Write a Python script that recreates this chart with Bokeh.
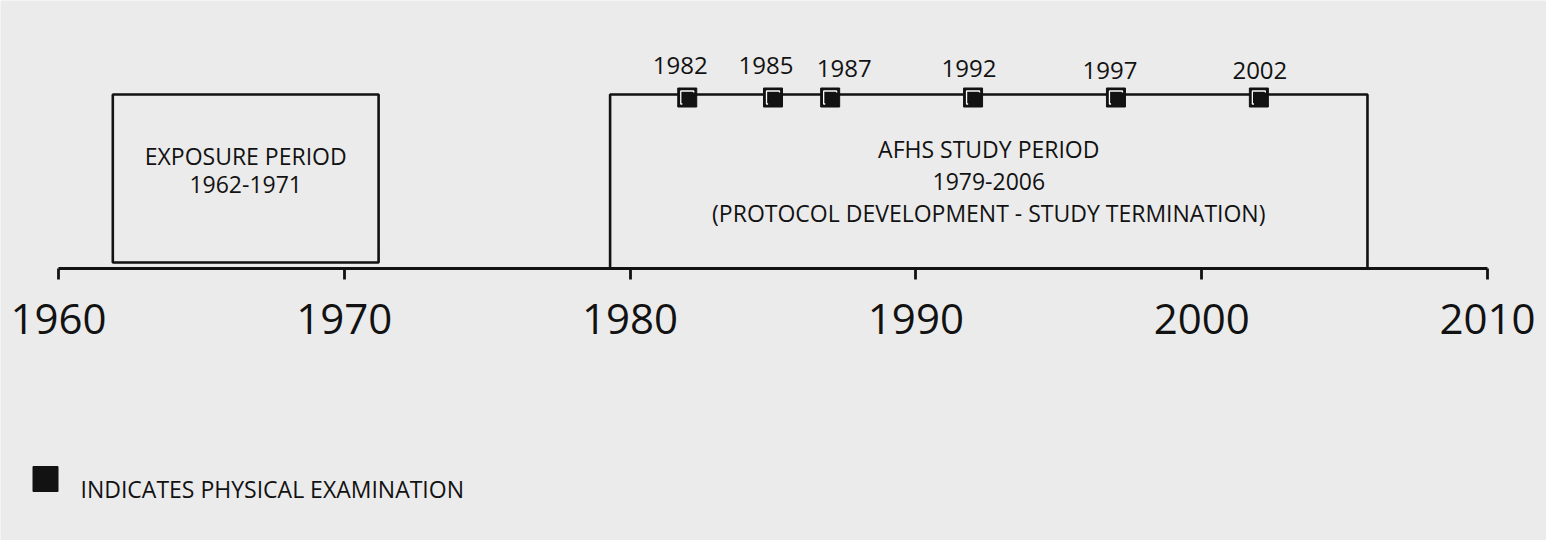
from bokeh.plotting import figure
from bokeh.models import Range1d, FixedTicker, ColumnDataSource
from bokeh.core.properties import value
from bokeh.embed import file_html
from bokeh.resources import INLINE

# ---------------- data ----------------
tick_years = [1960, 1970, 1980, 1990, 2000, 2010]
exam_years = [1982, 1985, 1987, 1992, 1997, 2002]
exam_labels = ["1982", "1985", "1987", "1992", "1997", "2002"]

period_start = [1961.9, 1979.3]
period_end = [1971.2, 2005.8]
exposure_text = ["EXPOSURE PERIOD", "1962-1971"]
study_text = ["AFHS STUDY PERIOD", "1979-2006", "(PROTOCOL DEVELOPMENT - STUDY TERMINATION)"]
legend_label = "INDICATES PHYSICAL EXAMINATION"

# ---------------- layout / style ----------------
W, H = 1546, 540
X0_PX, X1_PX = 58, 1487          # pixel positions of 1960 and 2010
PPY = (X1_PX - X0_PX) / (tick_years[-1] - tick_years[0])
PX = 1.0 / PPY                    # one pixel in years


def px_to_year(px):
    return tick_years[0] + (px - X0_PX) * PX


FONT = value("Open Sans")
INK = "#121212"
BG = "#ebebeb"
LW = 2.6

# small nudges of the exam-year labels (pixels), as in the original layout
label_dx = [-7, -7, 14, -4, -6, 1]
label_dy = [-3, -3, 0, 0, 2, 2]

p = figure(width=W, height=H, output_backend="svg", toolbar_location=None,
           x_range=Range1d(px_to_year(0), px_to_year(W)),
           y_range=Range1d(H, 0), y_axis_location=None,
           min_border_left=0, min_border_right=0, min_border_top=0, min_border_bottom=0)
p.background_fill_color = BG
p.border_fill_color = BG
p.outline_line_color = None
p.xgrid.visible = False
p.ygrid.visible = False

AXIS_Y = 268
xa = p.xaxis[0]
xa.fixed_location = AXIS_Y
xa.bounds = (tick_years[0], tick_years[-1])
xa.ticker = FixedTicker(ticks=tick_years)
xa.minor_tick_line_color = None
xa.major_tick_in = 0
xa.major_tick_out = 11
xa.axis_line_width = 2.8
xa.major_tick_line_width = 2.8
xa.axis_line_color = INK
xa.major_tick_line_color = INK
xa.major_label_text_font = "Open Sans"
xa.major_label_text_font_size = "42px"
xa.major_label_text_color = INK
xa.major_label_standoff = 24

# period boxes
p.quad(left=[period_start[0]], right=[period_end[0]], top=[94], bottom=[262],
       fill_color=None, line_color=INK, line_width=LW)
p.quad(left=[period_start[1]], right=[period_end[1]], top=[94], bottom=[AXIS_Y],
       fill_color=None, line_color=INK, line_width=LW)

mid_exp = (period_start[0] + period_end[0]) / 2
mid_std = (period_start[1] + period_end[1]) / 2
p.text(x=[mid_exp] * 2, y=[155, 184], text=exposure_text, text_font=FONT,
       text_font_size="23px", text_color=INK, text_align="center", text_baseline="middle")
p.text(x=[mid_std] * 3, y=[148, 181, 212], text=study_text, text_font=FONT,
       text_font_size="23px", text_color=INK, text_align="center", text_baseline="middle")

# exam markers
MY = 97
n = len(exam_years)
p.scatter(x=exam_years, y=[MY] * n, marker="square", size=19,
          fill_color=INK, line_color=INK, line_width=1)
p.scatter(x=exam_years, y=[MY] * n, marker="square", size=13,
          fill_color=None, line_color="white", line_width=1.3)
p.scatter(x=[e + 1.6 * PX for e in exam_years], y=[MY + 1.6] * n,
          marker="square", size=13, fill_color=INK, line_color=None)

lab = ColumnDataSource(dict(x=exam_years, y=[68] * n, text=exam_labels,
                            dx=label_dx, dy=label_dy))
p.text(x="x", y="y", text="text", x_offset="dx", y_offset="dy", source=lab,
       text_font=FONT, text_font_size="24px", text_color=INK,
       text_align="center", text_baseline="middle")

# key (legend) at lower left
p.scatter(x=[px_to_year(45)], y=[478.5], marker="square", size=25,
          fill_color=INK, line_color=INK, line_width=1)
p.text(x=[px_to_year(80)], y=[488.5], text=[legend_label], text_font=FONT,
       text_font_size="23px", text_color=INK, text_align="left", text_baseline="middle")

open("out.html", "w").write(file_html(p, INLINE))
